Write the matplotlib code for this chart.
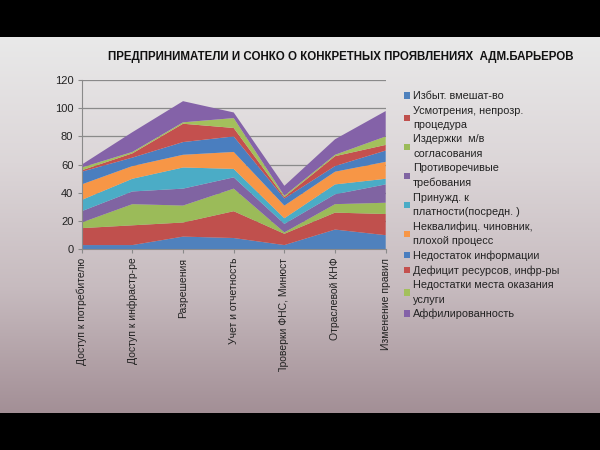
import numpy as np
import matplotlib

matplotlib.use("Agg")
import matplotlib.pyplot as plt  # noqa: E402
from matplotlib.colors import LinearSegmentedColormap  # noqa: E402
from matplotlib.transforms import Bbox, TransformedBbox  # noqa: E402

plt.rcParams["font.family"] = ["Liberation Sans", "DejaVu Sans"]

TITLE = "ПРЕДПРИНИМАТЕЛИ И СОНКО О КОНКРЕТНЫХ ПРОЯВЛЕНИЯХ  АДМ.БАРЬЕРОВ"

categories = [
    "Доступ к потребителю",
    "Доступ к инфрастр-ре",
    "Разрешения",
    "Учет и отчетность",
    "Проверки ФНС, Минюст",
    "Отраслевой КНФ",
    "Изменение правил",
]

series_labels = [
    "Избыт. вмешат-во",
    "Усмотрения, непрозр.\nпроцедура",
    "Издержки  м/в\nсогласования",
    "Противоречивые\nтребования",
    "Принужд. к\nплатности(посредн. )",
    "Неквалифиц. чиновник,\nплохой процесс",
    "Недостаток информации",
    "Дефицит ресурсов, инфр-ры",
    "Недостатки места оказания\nуслуги",
    "Аффилированность",
]

izbyt = [3, 3, 9, 8, 3, 14, 10]
usmotr = [12, 14, 10, 19, 8, 12, 15]
izderzhki = [4, 15, 12, 16, 1, 6, 8]
protivor = [8, 9, 12, 8, 6, 7, 13]
prinuzhd = [8, 9, 15, 6, 4, 7, 4]
nekval = [11, 9, 9, 12, 9, 9, 12]
nedost_info = [9, 6, 9, 11, 5, 4, 8]
deficit = [1, 3, 13, 6, 1, 7, 4]
nedost_mesta = [2, 1, 1, 7, 1, 1, 6]
affil = [2, 14, 15, 4, 7, 11, 18]

series = [izbyt, usmotr, izderzhki, protivor, prinuzhd, nekval,
          nedost_info, deficit, nedost_mesta, affil]

colors = ["#4F81BD", "#C0504D", "#9BBB59", "#8064A2", "#4BACC6",
          "#F79646", "#4A7EBF", "#C4504E", "#A3C05C", "#8462A8"]

fig = plt.figure(figsize=(6.0, 4.5), dpi=100, facecolor="black")

# gradient slide background between black bars
bg = fig.add_axes([0, 1 - 413 / 450, 1, (413 - 37) / 450], zorder=-5)
cmap = LinearSegmentedColormap.from_list(
    "bg", ["#e9e9e9", "#dcd6d8", "#c7bbbf", "#a38f96"])
grad = np.linspace(0, 1, 256).reshape(-1, 1)
bg.imshow(grad, aspect="auto", cmap=cmap, extent=[0, 1, 0, 1], origin="upper")
bg.set_axis_off()

fig.text(341 / 600, 1 - 57 / 450, TITLE, ha="center", va="center",
         fontsize=8.3, fontweight="bold", color="#111111")

ax = fig.add_axes([81.7 / 600, 1 - 249.3 / 450, 304 / 600, 169.3 / 450])
ax.set_facecolor("none")
x = np.arange(len(categories))
ax.stackplot(x, *series, colors=colors, labels=series_labels,
             linewidth=0, zorder=2)

ax.set_xlim(0, len(categories) - 1)
ax.set_ylim(0, 120)
ax.set_yticks(range(0, 121, 20))
ax.yaxis.grid(True, color="#8a8a8a", linewidth=0.9, zorder=1)
ax.set_axisbelow(True)
for s in ["top", "right"]:
    ax.spines[s].set_visible(False)
ax.spines["left"].set_color("#8a8a8a")
ax.spines["bottom"].set_color("#8a8a8a")
ax.tick_params(axis="y", labelsize=8, colors="#222222", length=3, color="#8a8a8a", pad=3)
ax.tick_params(axis="x", labelsize=7.5, colors="#222222", length=3, color="#8a8a8a", pad=3)
ax.set_xticks(x)
ax.set_xticklabels(categories, rotation=90, va="top", ha="center")

clip = TransformedBbox(Bbox([[0, 1 - 372 / 450], [1, 1]]), fig.transFigure)
for lbl in ax.get_xticklabels():
    lbl.set_clip_box(clip)
    lbl.set_clip_on(True)

leg = fig.legend(loc="upper left", bbox_to_anchor=(400 / 600, 1 - 87 / 450),
                 frameon=False, fontsize=7.8, handlelength=0.55, handleheight=0.55,
                 handletextpad=0.25, labelspacing=0.4, borderaxespad=0,
                 labelcolor="#222222")
for t in leg.get_texts():
    t.set_linespacing(1.55)

fig.savefig("out.png", dpi=100, facecolor="black")
